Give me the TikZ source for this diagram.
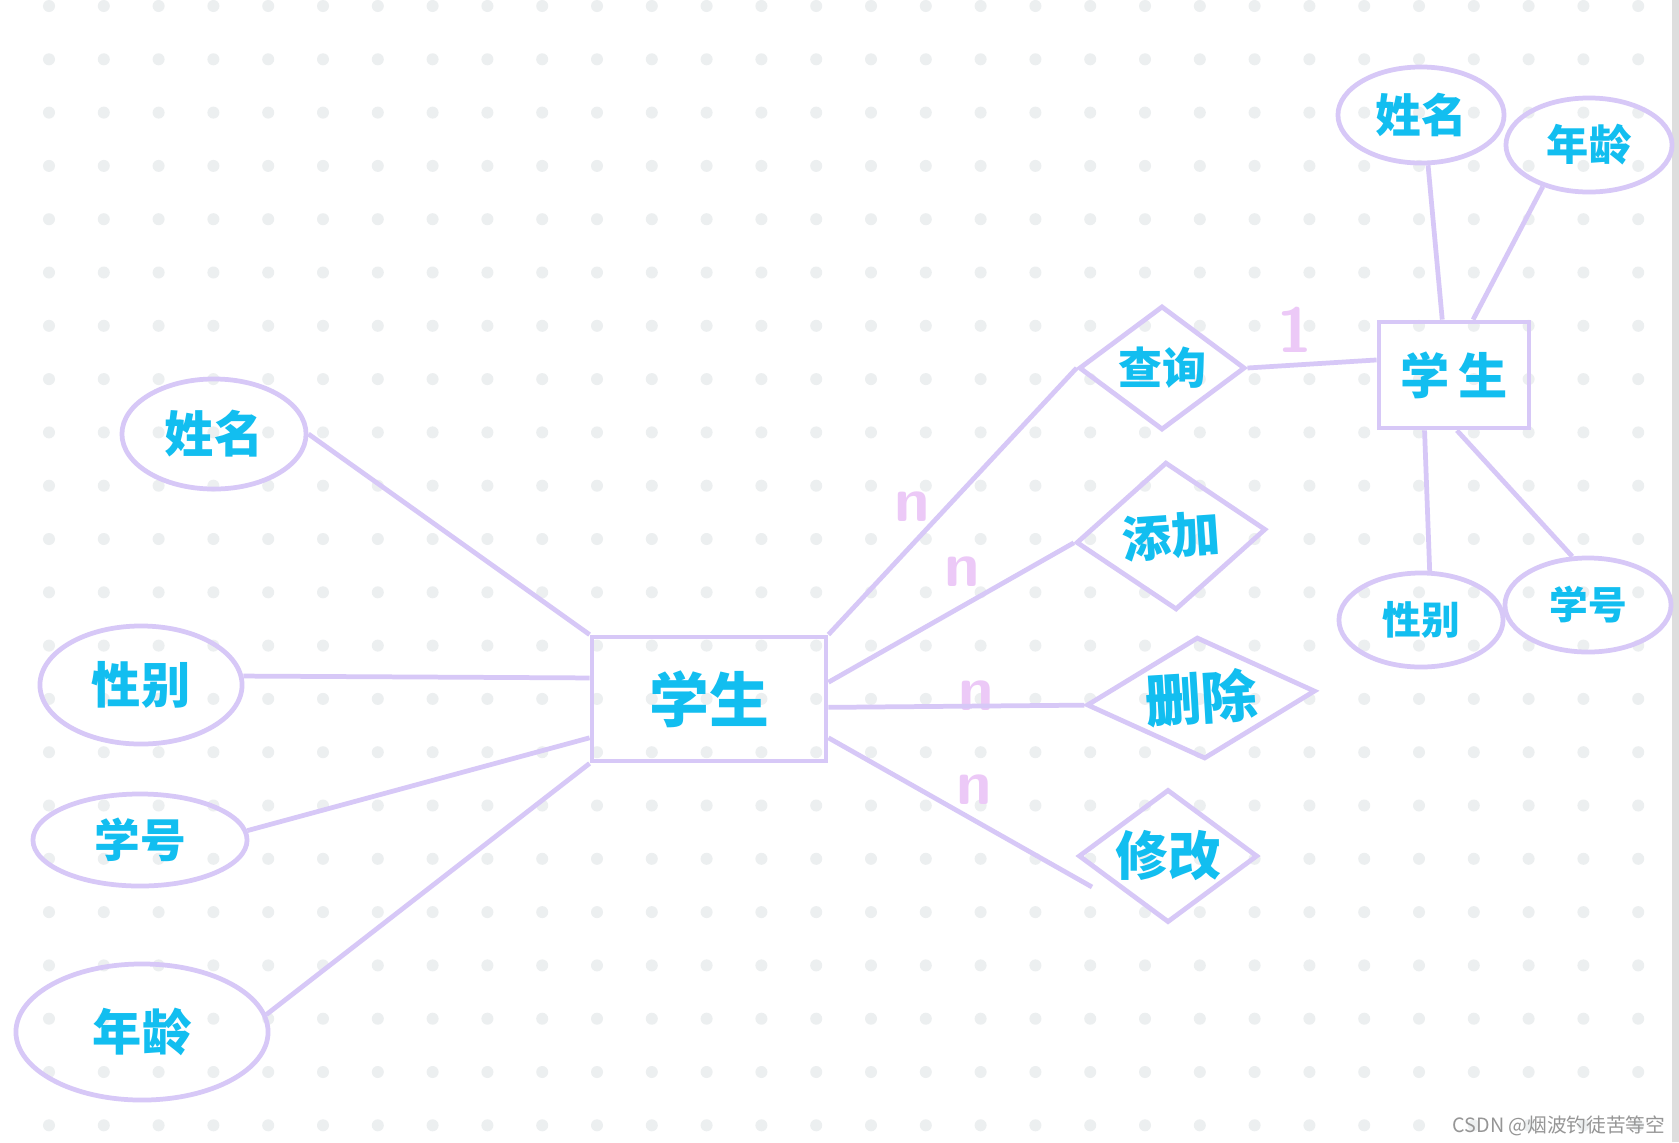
\documentclass[tikz,border=0pt]{standalone}
\usepackage{fontspec}
\usetikzlibrary{shapes,positioning}
\newfontfamily\cjk{Noto Sans CJK SC}
\definecolor{lineviolet}{RGB}{215,200,247}
\definecolor{textcyan}{RGB}{18,190,240}
\definecolor{markpink}{RGB}{236,201,247}
\definecolor{dotgray}{RGB}{236,239,240}
\definecolor{stripgray}{RGB}{222,222,222}
\definecolor{markgray}{RGB}{150,150,150}

\begin{document}
\begin{tikzpicture}[x=0.01cm, y=-0.01cm]
            \useasboundingbox (0,0) rectangle (1679,1142);
            \fill[white] (0,0) rectangle (1679,1142);
            \fill[stripgray] (1672,0) rectangle (1679,1142);
            \foreach \i in {0,...,29}
                \foreach \j in {0,...,21}
                    \fill[dotgray] ({49+54.8*\i},{6+53.3*\j}) circle (0.06cm);
            \begin{scope}[attr/.style={ellipse, draw=lineviolet, line width=1.35pt, inner sep=0pt},
                entity/.style={rectangle, draw=lineviolet, line width=1.35pt, inner sep=0pt},
                rel/.style={diamond, draw=lineviolet, line width=1.35pt, inner sep=0pt},
                hw/.style={text=textcyan, font=\cjk\bfseries\fontsize{#1}{#1}\selectfont},
                card/.style={text=markpink, inner sep=0pt, font=\sffamily\bfseries\fontsize{18pt}{18pt}\selectfont}]
                \node(stuL) at (709,699) [entity, minimum width=2.34cm, minimum height=1.24cm, hw=17pt]{学生};
                \node(nameL) at (214,434) [attr, minimum width=1.84cm, minimum height=1.1cm, hw=14pt]{姓名};
                \node(sexL) at (141,685) [attr, minimum width=2.02cm, minimum height=1.18cm, hw=14pt]{性别};
                \node(idL) at (140,840) [attr, minimum width=2.14cm, minimum height=0.92cm, hw=13pt]{学号};
                \node(ageL) at (142,1032) [attr, minimum width=2.52cm, minimum height=1.36cm, hw=14pt]{年龄};
                %%%
                \node(query) at (1162,368) [rel, aspect=1.34, minimum width=1.66cm, minimum height=1.24cm, hw=12.5pt]{查询};
                \node(add) at (1171,536) [rel, rotate=4, aspect=1.28, minimum width=1.9cm, minimum height=1.48cm, hw=14pt]{添加};
                \node(del) at (1201,698) [rel, rotate=3.5, aspect=1.88, minimum width=2.29cm, minimum height=1.22cm, hw=16pt]{删除};
                \node(mod) at (1168,856) [rel, aspect=1.35, minimum width=1.79cm, minimum height=1.33cm, hw=15pt]{修改};
                %%%
                \node(stuR) at (1454,375) [entity, minimum width=1.5cm, minimum height=1.06cm, hw=14pt]{学\,生};
                \node(nameR) at (1421,115) [attr, minimum width=1.66cm, minimum height=0.96cm, hw=13pt]{姓名};
                \node(ageR) at (1589,145) [attr, minimum width=1.66cm, minimum height=0.94cm, hw=12pt]{年龄};
                \node(sexR) at (1421,620) [attr, minimum width=1.64cm, minimum height=0.94cm, hw=11pt]{性别};
                \node(idR) at (1588,605) [attr, minimum width=1.66cm, minimum height=0.94cm, hw=11pt]{学号};
                %%%
                \node(nq) at (912,507) [card]{n};
                \node(na) at (962,572) [card]{n};
                \node(nd) at (976,696) [card]{n};
                \node(nm) at (974,790) [card]{n};
                \node(one) at (1295,330) [card]{1};
                \coordinate(modEnd) at (1092,887);
                %%%
                \node(mark) at (1666,1126) [anchor=east, inner sep=0pt, text=markgray, font=\cjk\fontsize{5.6pt}{6pt}\selectfont]{CSDN @烟波钓徒苦等空};
            \end{scope}
            \begin{scope}[lineviolet, line width=1.35pt]
                \draw (nameL.east) -- (stuL.north west);
                \draw (sexL.5) -- (stuL.170);
                \draw (idL.5) -- (stuL.198);
                \draw (ageL.8) -- (stuL.south west);
                %
                \draw (stuL.north east) -- (query.west);
                \draw (stuL.8) -- (add.west);
                \draw (stuL.-4) -- (del.west);
                \draw (stuL.-18) -- (modEnd);
                %
                \draw (query.east) -- (stuR.169);
                \draw (nameR.-82) -- (stuR.102);
                \draw (ageR.222) -- (stuR.71);
                \draw (sexR.80) -- (stuR.-118);
                \draw (idR.108) -- (stuR.-87);
            \end{scope}
        \end{tikzpicture}
\end{document}
